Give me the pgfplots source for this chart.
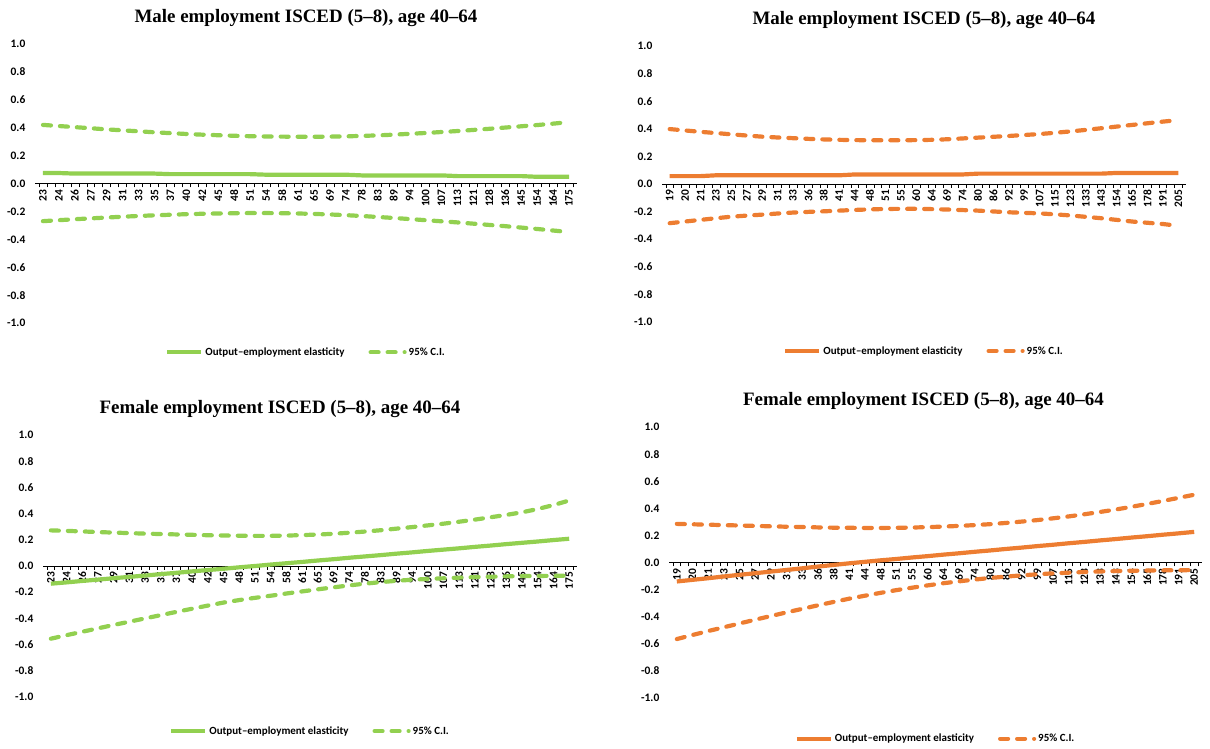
\documentclass[border=0pt]{standalone}
\usepackage{fontspec}
\usepackage{pgfplots}
\usepackage{pgfplotstable}
\pgfplotsset{compat=1.18}
\setmainfont{Carlito}
\newfontfamily\tnr[Ligatures=TeX]{Liberation Serif}
\definecolor{xlgreen}{RGB}{146,208,80}
\definecolor{xlorange}{RGB}{237,125,49}

% columns: category index, elasticity, lower 95% bound, upper 95% bound
\pgfplotstableread{
i est lo hi
0 0.075 -0.270 0.420
1 0.075 -0.263 0.412
2 0.071 -0.256 0.404
3 0.071 -0.250 0.396
4 0.071 -0.244 0.388
5 0.071 -0.238 0.381
6 0.071 -0.233 0.374
7 0.071 -0.228 0.367
8 0.067 -0.224 0.361
9 0.067 -0.220 0.355
10 0.067 -0.217 0.350
11 0.067 -0.215 0.346
12 0.067 -0.213 0.342
13 0.067 -0.212 0.339
14 0.063 -0.212 0.337
15 0.063 -0.213 0.336
16 0.063 -0.215 0.335
17 0.063 -0.218 0.335
18 0.063 -0.222 0.336
19 0.063 -0.227 0.338
20 0.058 -0.233 0.341
21 0.058 -0.240 0.345
22 0.058 -0.247 0.350
23 0.058 -0.255 0.356
24 0.058 -0.263 0.362
25 0.058 -0.271 0.369
26 0.053 -0.279 0.376
27 0.053 -0.288 0.384
28 0.053 -0.297 0.392
29 0.053 -0.306 0.401
30 0.053 -0.316 0.410
31 0.048 -0.326 0.419
32 0.048 -0.337 0.429
33 0.048 -0.348 0.440
}\maleA

\pgfplotstableread{
i est lo hi
0 0.057 -0.284 0.398
1 0.057 -0.272 0.388
2 0.057 -0.260 0.378
3 0.063 -0.248 0.369
4 0.063 -0.237 0.360
5 0.063 -0.229 0.351
6 0.063 -0.222 0.343
7 0.063 -0.214 0.337
8 0.063 -0.207 0.332
9 0.063 -0.202 0.327
10 0.063 -0.198 0.323
11 0.063 -0.193 0.320
12 0.069 -0.188 0.318
13 0.069 -0.184 0.317
14 0.069 -0.181 0.317
15 0.069 -0.180 0.317
16 0.069 -0.180 0.318
17 0.069 -0.182 0.320
18 0.069 -0.185 0.324
19 0.069 -0.189 0.330
20 0.075 -0.193 0.336
21 0.075 -0.199 0.342
22 0.075 -0.205 0.348
23 0.075 -0.209 0.355
24 0.075 -0.213 0.362
25 0.075 -0.220 0.371
26 0.075 -0.228 0.381
27 0.075 -0.238 0.392
28 0.075 -0.248 0.404
29 0.080 -0.260 0.416
30 0.080 -0.272 0.428
31 0.080 -0.281 0.440
32 0.080 -0.290 0.452
33 0.080 -0.303 0.463
}\maleB

\pgfplotstableread{
i est lo hi
0 -0.135 -0.555 0.272
1 -0.125 -0.528 0.268
2 -0.114 -0.502 0.264
3 -0.104 -0.476 0.259
4 -0.093 -0.450 0.255
5 -0.083 -0.425 0.251
6 -0.073 -0.400 0.247
7 -0.062 -0.375 0.244
8 -0.052 -0.350 0.241
9 -0.041 -0.326 0.238
10 -0.031 -0.302 0.235
11 -0.021 -0.279 0.233
12 -0.010 -0.260 0.231
13 0.000 -0.243 0.230
14 0.011 -0.227 0.230
15 0.021 -0.210 0.232
16 0.031 -0.194 0.236
17 0.042 -0.178 0.240
18 0.052 -0.163 0.246
19 0.063 -0.148 0.254
20 0.073 -0.135 0.263
21 0.083 -0.123 0.273
22 0.094 -0.113 0.285
23 0.104 -0.105 0.297
24 0.115 -0.099 0.310
25 0.125 -0.094 0.323
26 0.135 -0.089 0.338
27 0.146 -0.085 0.354
28 0.156 -0.082 0.372
29 0.167 -0.079 0.390
30 0.177 -0.077 0.410
31 0.187 -0.076 0.435
32 0.198 -0.075 0.465
33 0.208 -0.074 0.500
}\femaleA

\pgfplotstableread{
i est lo hi
0 -0.140 -0.565 0.285
1 -0.128 -0.535 0.282
2 -0.116 -0.506 0.279
3 -0.103 -0.478 0.276
4 -0.091 -0.450 0.273
5 -0.079 -0.422 0.270
6 -0.067 -0.395 0.267
7 -0.055 -0.368 0.264
8 -0.043 -0.342 0.262
9 -0.030 -0.316 0.259
10 -0.018 -0.291 0.257
11 -0.006 -0.267 0.256
12 0.005 -0.245 0.255
13 0.016 -0.224 0.255
14 0.026 -0.204 0.256
15 0.037 -0.186 0.258
16 0.047 -0.169 0.261
17 0.058 -0.153 0.265
18 0.068 -0.139 0.270
19 0.079 -0.126 0.276
20 0.089 -0.114 0.283
21 0.100 -0.104 0.292
22 0.110 -0.095 0.302
23 0.121 -0.087 0.313
24 0.131 -0.080 0.326
25 0.142 -0.075 0.340
26 0.152 -0.070 0.356
27 0.163 -0.066 0.373
28 0.173 -0.063 0.391
29 0.184 -0.061 0.411
30 0.194 -0.059 0.432
31 0.205 -0.058 0.454
32 0.215 -0.057 0.477
33 0.226 -0.056 0.500
}\femaleB

\def\labsA{23,24,26,27,29,31,33,35,37,40,42,45,48,51,54,58,61,65,69,74,78,83,89,94,100,107,113,121,128,136,145,154,164,175}
\def\labsB{19,20,21,23,25,27,29,31,33,36,38,41,44,48,51,55,60,64,69,74,80,86,92,99,107,115,123,133,143,154,165,178,191,205}

\pgfplotsset{
  panel/.style={
    scale only axis,
    ymin=-1, ymax=1, xmin=-0.5, xmax=33.5,
    axis y line=left, axis x line*=middle,
    y axis line style={draw=none},
    x axis line style={-, black, line width=0.9bp},
    hide obscured x ticks=false, hide obscured y ticks=false,
    ytick={-1,-0.8,-0.6,-0.4,-0.2,0,0.2,0.4,0.6,0.8,1},
    ytick style={draw=none},
    yticklabel style={font=\bfseries\fontsize{11.5}{12}\selectfont, xshift=-4bp,
      /pgf/number format/.cd, fixed, fixed zerofill, precision=1, assume math mode=true},
    xtick={0,...,33},
    major x tick style={draw=none},
    minor xtick={-0.25,0.25,...,33.3},
    minor x tick style={black, line width=0.6bp},
    minor tick length=4bp,
    xtick align=outside,
    xticklabel style={rotate=90, anchor=east, inner sep=1.5bp,
      font=\bfseries\fontsize{11.5}{12}\selectfont},
    clip=false,
    title style={font=\tnr\bfseries\fontsize{19}{22}\selectfont, at={(0.5,1)}, anchor=center, yshift=20bp},
    legend columns=2,
    legend style={draw=none, fill=none, anchor=center, font=\bfseries\fontsize{11}{12}\selectfont,
      /tikz/every even column/.append style={column sep=22bp}},
    legend image code/.code={\draw[##1] (0bp,0bp) -- (34bp,0bp);},
  },
  est/.style={line width=4.2bp},
  ci/.style={line width=4.2bp, line cap=round, dash pattern=on 8bp off 9bp},
}

\begin{document}
\begin{tikzpicture}
\path (0bp,0bp) rectangle (1210bp,749bp);

% male, first specification
\begin{axis}[panel, at={(35bp,426bp)}, anchor=south west, width=542bp, height=279bp,
  xticklabels/.expand once={\labsA},
  title={Male employment ISCED (5--8), age 40--64},
  legend style={at={(0.5,-0.105)}}]
\addplot[est, xlgreen] table[x=i, y=est] {\maleA};
\addlegendentry{Output--employment elasticity}
\addplot[ci, xlgreen] table[x=i, y=hi] {\maleA};
\addlegendentry{95\% C.I.}
\addplot[ci, xlgreen, forget plot] table[x=i, y=lo] {\maleA};
\end{axis}

% male, second specification
\begin{axis}[panel, at={(662bp,427bp)}, anchor=south west, width=524bp, height=276bp,
  xticklabels/.expand once={\labsB},
  title={Male employment ISCED (5--8), age 40--64},
  legend style={at={(0.5,-0.105)}}]
\addplot[est, xlorange] table[x=i, y=est] {\maleB};
\addlegendentry{Output--employment elasticity}
\addplot[ci, xlorange] table[x=i, y=hi] {\maleB};
\addlegendentry{95\% C.I.}
\addplot[ci, xlorange, forget plot] table[x=i, y=lo] {\maleB};
\end{axis}

% female, first specification
\begin{axis}[panel, at={(43bp,52bp)}, anchor=south west, width=534bp, height=262bp,
  xticklabels/.expand once={\labsA},
  title={Female employment ISCED (5--8), age 40--64},
  title style={xshift=-30bp},
  legend style={at={(0.5,-0.13)}}]
\addplot[est, xlgreen] table[x=i, y=est] {\femaleA};
\addlegendentry{Output--employment elasticity}
\addplot[ci, xlgreen] table[x=i, y=hi] {\femaleA};
\addlegendentry{95\% C.I.}
\addplot[ci, xlgreen, forget plot] table[x=i, y=lo] {\femaleA};
\end{axis}

% female, second specification
\begin{axis}[panel, at={(669bp,51bp)}, anchor=south west, width=533bp, height=271bp,
  xticklabels/.expand once={\labsB},
  title={Female employment ISCED (5--8), age 40--64},
  title style={xshift=-12bp},
  legend style={at={(0.5,-0.15)}}]
\addplot[est, xlorange] table[x=i, y=est] {\femaleB};
\addlegendentry{Output--employment elasticity}
\addplot[ci, xlorange] table[x=i, y=hi] {\femaleB};
\addlegendentry{95\% C.I.}
\addplot[ci, xlorange, forget plot] table[x=i, y=lo] {\femaleB};
\end{axis}
\end{tikzpicture}
\end{document}
